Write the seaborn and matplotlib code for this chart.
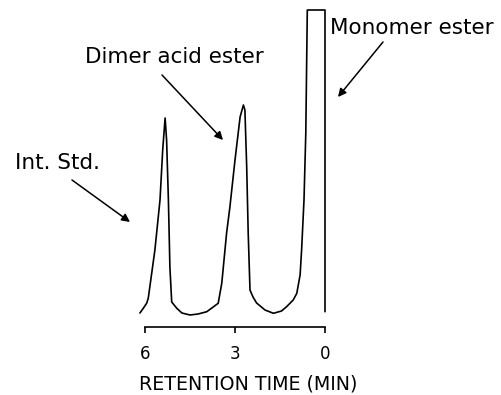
import matplotlib
matplotlib.use("Agg")
import matplotlib.pyplot as plt
import numpy as np
import pandas as pd
import seaborn as sns

# Chromatogram trace (retention time in min, response in arbitrary units)
retention_time = [6.17, 6.05, 5.94, 5.89, 5.67, 5.50, 5.41, 5.33, 5.28, 5.22, 5.17, 5.11,
                  4.94, 4.77, 4.50, 4.23, 3.94, 3.56, 3.44, 3.28, 3.17, 3.00, 2.83, 2.72,
                  2.67, 2.61, 2.56, 2.50, 2.40, 2.28, 2.00, 1.72, 1.45, 1.28, 1.06, 0.94,
                  0.83, 0.78, 0.70, 0.64, 0.59, 0.00, 0.00]
response = [2, 7, 12, 17, 65, 115, 165, 197, 175, 115, 48, 13,
            6.7, 2, 0, 1, 3.3, 11.7, 32, 82, 108, 155, 198, 210,
            205, 148, 82, 25, 18, 12, 5, 1.7, 4, 8.3, 15, 21.7,
            40, 65, 115, 182, 305, 305, 3.3]

tick_values = [6, 3, 0]
tick_labels = ["6", "3", "0"]
x_label = "RETENTION TIME (MIN)"
annotations = ["Monomer ester", "Dimer acid ester", "Int. Std."]

sns.set_theme(style="white")
plt.rcParams["font.family"] = ["DejaVu Sans"]

W, H = 502, 395
fig = plt.figure(figsize=(W / 100, H / 100), dpi=100)
ax = fig.add_axes([0, 0, 1, 1])
ax.set_facecolor("white")

df = pd.DataFrame({"time": retention_time, "resp": response})
sns.lineplot(data=df, x="time", y="resp", sort=False, estimator=None,
             color="black", linewidth=1.2, ax=ax)

# pixel-aligned data window
ax.set_xlim(325 / 30, (325 - W) / 30)
ax.set_ylim(315 - H, 315)

for s in ["top", "left", "right"]:
    ax.spines[s].set_visible(False)
ax.spines["bottom"].set_position(("data", -12))
ax.spines["bottom"].set_bounds(0, 6)
ax.spines["bottom"].set_color("black")
ax.spines["bottom"].set_linewidth(1.2)
ax.set_yticks([])
ax.set_xticks(tick_values)
ax.set_xticklabels(tick_labels, fontsize=12)
ax.tick_params(axis="x", direction="out", length=4, width=1.2, pad=9,
               color="black", labelcolor="black", bottom=True)
ax.set_ylabel("")
ax.set_xlabel(x_label, fontsize=13.7, color="black")
ax.xaxis.set_label_coords(248 / W, 1 - 374 / H)


def f(px, py):
    return (px / W, 1 - py / H)


txt_pos = [(330, 28), (85, 57), (15, 163)]
arrows = [((383, 42), (338, 97)), ((162, 75), (223, 140)), ((72, 180), (130, 222))]
for label, (tx, ty), (start, end) in zip(annotations, txt_pos, arrows):
    ax.text(*f(tx, ty), label, transform=ax.transAxes, ha="left", va="center",
            fontsize=15.5, color="black")
    ax.annotate("", xy=f(*end), xytext=f(*start), xycoords="axes fraction",
                textcoords="axes fraction",
                arrowprops=dict(arrowstyle="-|>", color="black", lw=1.1,
                                mutation_scale=12, shrinkA=0, shrinkB=0))

fig.savefig("out.png", dpi=100)
